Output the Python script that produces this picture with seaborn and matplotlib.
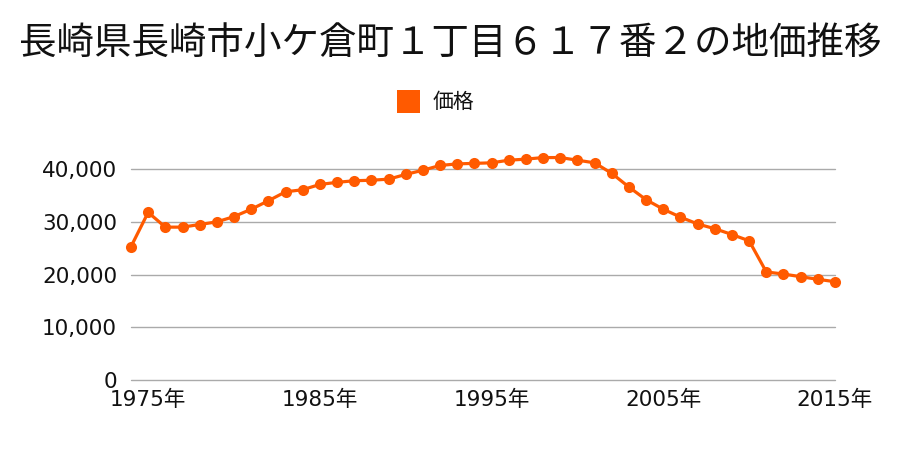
import matplotlib
matplotlib.use('Agg')
import pandas as pd
import numpy as np
import matplotlib.pyplot as plt
import matplotlib.ticker as mticker
from matplotlib.patches import Rectangle
import seaborn as sns

TITLE = "長崎県長崎市小ケ倉町１丁目６１７番２の地価推移"
SERIES_NAME = "価格"

years = list(range(1974, 2016))
prices = [
    25300, 31800, 29000, 29000, 29500, 30000, 31000, 32400, 34000, 35700,
    36100, 37100, 37500, 37800, 37900, 38100, 39000, 39800, 40700, 41000,
    41100, 41200, 41700, 41900, 42200, 42200, 41700, 41200, 39200, 36600,
    34200, 32400, 30900, 29600, 28700, 27600, 26400, 20500, 20100, 19600,
    19100, 18650,
]
tick_years = [1975, 1985, 1995, 2005, 2015]
tick_labels = [f"{y}年" for y in tick_years]
y_ticks = [0, 10000, 20000, 30000, 40000]

LINE_COLOR = "#ff5a00"

sns.set_style("white")
plt.rcParams['font.family'] = ['Noto Sans CJK JP', 'DejaVu Sans']
TICK_FONT = ['DejaVu Sans', 'Noto Sans CJK JP']

df = pd.DataFrame({"year": years, "price": prices})

W, H = 900, 450
fig = plt.figure(figsize=(9, 4.5), dpi=100)
ax = fig.add_axes([131 / W, 1 - 380 / H, (835 - 131) / W, (380 - 142.8) / H])

sns.lineplot(data=df, x="year", y="price", ax=ax, color=LINE_COLOR,
             linewidth=2.3, marker="o", markersize=8, markeredgewidth=0,
             legend=False, zorder=3, clip_on=False)

ax.set_xlim(years[0], years[-1])
ax.set_ylim(0, 45000)
ax.set_yticks(y_ticks)
ax.yaxis.set_major_formatter(mticker.FuncFormatter(lambda v, p: f"{int(v):,}"))
ax.set_xticks(tick_years)
ax.set_xticklabels(tick_labels)
ax.tick_params(axis='y', length=0, pad=10, labelsize=15.5, colors='#111111')
ax.tick_params(axis='x', length=0, pad=7, labelsize=15.5, colors='#111111')
for lab in ax.get_xticklabels() + ax.get_yticklabels():
    lab.set_family(TICK_FONT)
ax.grid(axis='y', color='#aaaaaa', linewidth=1)
ax.grid(axis='x', visible=False)
for gl in ax.get_ygridlines():
    gl.set_clip_on(False)
for s in ax.spines.values():
    s.set_visible(False)
ax.set_xlabel("")
ax.set_ylabel("")

fig.text(0.5, 1 - 43 / H, TITLE, ha='center', va='center', fontsize=27, color='#111111')

# legend: orange square + label
fig.patches.append(Rectangle((397 / W, 1 - 113 / H), 23 / W, 23 / H,
                             transform=fig.transFigure, facecolor=LINE_COLOR,
                             edgecolor='none'))
fig.text(433 / W, 1 - 101.5 / H, SERIES_NAME, ha='left', va='center',
         fontsize=15, color='#111111')

plt.savefig("out.png", dpi=100)
plt.close()
